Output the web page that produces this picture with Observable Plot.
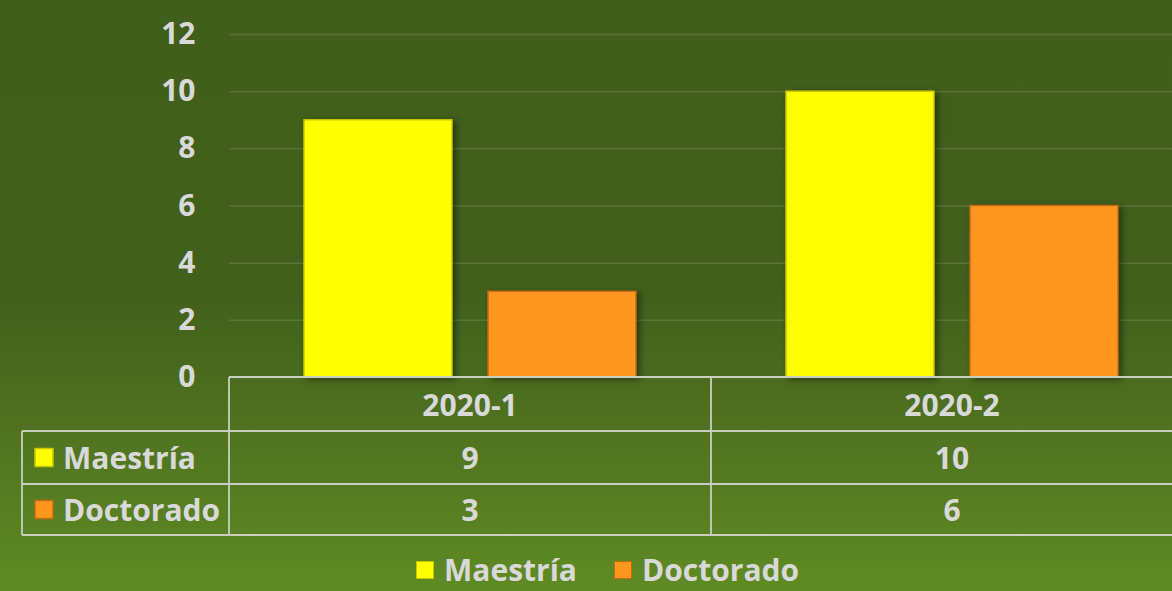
<!DOCTYPE html>
<html>
<head>
<meta charset="utf-8">
<script src="https://cdn.jsdelivr.net/npm/d3@7"></script>
<script src="https://cdn.jsdelivr.net/npm/@observablehq/plot@0.6"></script>
<style>
  html, body { margin:0; padding:0; overflow:hidden; }
  #wrap { position:relative; width:1172px; height:591px; overflow:hidden;
    background: linear-gradient(to bottom, #415e1a 0%, #42601b 50%, #4f7220 72%, #5f8b23 100%);
    font-family: "Open Sans", "Noto Sans", sans-serif; font-weight:700; color:#d9d9d9; }
  #chart { position:absolute; left:0; top:0; width:1193px; }
  #chart svg { max-width:none !important; }
  #table { position:absolute; left:0; top:0; }
  #legend { position:absolute; left:416px; top:549px; display:flex; gap:37px; font-size:30px; line-height:41px; white-space:nowrap; }
  #legend span.item { display:flex; align-items:center; gap:10px; }
  #legend span.sw { width:18px; height:18px; display:inline-block; box-sizing:border-box; }
</style>
</head>
<body>
<div id="wrap">
  <div id="chart"></div>
  <svg id="table" width="1193" height="591"></svg>
  <div id="legend"></div>
</div>
<script>
const periods = ["2020-1", "2020-2"];
const seriesNames = ["Maestría", "Doctorado"];
const maestria = [9, 10];
const doctorado = [3, 6];
const seriesColors = ["#ffff00", "#ff961e"];
const seriesEdges = ["#c8c800", "#c86a10"];
const yTicks = [0, 2, 4, 6, 8, 10, 12];

const seriesValues = [maestria, doctorado];
const data = periods.flatMap((p, i) => seriesNames.map((s, j) => ({period: p, series: s, value: seriesValues[j][i]})));
const FONT = "'Open Sans', 'Noto Sans', sans-serif";

const chart = Plot.plot({
  width: 1193, height: 379,
  marginTop: 34, marginBottom: 2, marginLeft: 229, marginRight: 0,
  style: {background: "transparent", color: "#d9d9d9", fontFamily: FONT, fontSize: "30px", fontWeight: 700, overflow: "visible", maxWidth: "none"},
  fx: {domain: periods, padding: 0, axis: null},
  x: {domain: seriesNames, paddingInner: 0.1957, paddingOuter: 0.4076, axis: null},
  y: {domain: [0, 12], ticks: yTicks, label: null, axis: null},
  color: {domain: seriesNames, range: seriesColors},
  marks: [
    Plot.gridY(yTicks, {stroke: "#ffffff", strokeOpacity: 0.13, strokeWidth: 1.5}),
    Plot.axisY(yTicks, {tickSize: 0, tickPadding: 34, fontSize: 30, fontWeight: 700, fill: "#d9d9d9", label: null}),
    Plot.barY(data, {fx: "period", x: "series", y: "value", fill: "series", stroke: d => seriesEdges[seriesNames.indexOf(d.series)], strokeWidth: 1.5})
  ]
});
document.getElementById("chart").appendChild(chart);

// drop shadow on bars
d3.select(chart).selectAll("g[aria-label='bar'] rect").style("filter", "drop-shadow(3px 2px 3px rgba(0,0,0,0.45))");

// data table under the plot, positioned with a Plot band scale
const xs = Plot.scale({x: {type: "band", domain: periods, range: [229, 1193], padding: 0}});
const bw = xs.bandwidth;
const svg = d3.select("#table");
const lineColor = "#c9cfc0";
const rowY = [377, 431, 484, 535];
const g = svg.append("g").attr("stroke", lineColor).attr("stroke-width", 1.8).attr("fill", "none");
g.append("line").attr("x1", 229).attr("x2", 1193).attr("y1", rowY[0]).attr("y2", rowY[0]);
[rowY[1], rowY[2], rowY[3]].forEach(y => g.append("line").attr("x1", 22).attr("x2", 1193).attr("y1", y).attr("y2", y));
g.append("line").attr("x1", 22).attr("x2", 22).attr("y1", rowY[1]).attr("y2", rowY[3]);
periods.forEach((p, i) => {
  const x0 = xs.apply(p);
  g.append("line").attr("x1", x0).attr("x2", x0).attr("y1", rowY[0]).attr("y2", rowY[3]);
});
const tg = svg.append("g").attr("fill", "#d9d9d9").attr("font-size", 30).attr("font-weight", 700)
  .attr("font-family", FONT).attr("dominant-baseline", "central");
periods.forEach((p, i) => {
  const cx = xs.apply(p) + bw / 2;
  tg.append("text").attr("x", cx).attr("y", (rowY[0] + rowY[1]) / 2).attr("text-anchor", "middle").text(p);
  seriesValues.forEach((vals, j) => {
    tg.append("text").attr("x", cx).attr("y", (rowY[j + 1] + rowY[j + 2]) / 2).attr("text-anchor", "middle").text(vals[i]);
  });
});
seriesNames.forEach((s, j) => {
  const cy = (rowY[j + 1] + rowY[j + 2]) / 2;
  svg.append("rect").attr("x", 35).attr("y", cy - 9).attr("width", 18).attr("height", 18)
    .attr("fill", seriesColors[j]).attr("stroke", seriesEdges[j]).attr("stroke-width", 1.5);
  tg.append("text").attr("x", 63).attr("y", cy).text(s);
});

// legend
const legend = d3.select("#legend");
seriesNames.forEach((s, j) => {
  const it = legend.append("span").attr("class", "item");
  it.append("span").attr("class", "sw").style("background", seriesColors[j]).style("border", `1.5px solid ${seriesEdges[j]}`);
  it.append("span").text(s);
});
</script>
</body>
</html>
